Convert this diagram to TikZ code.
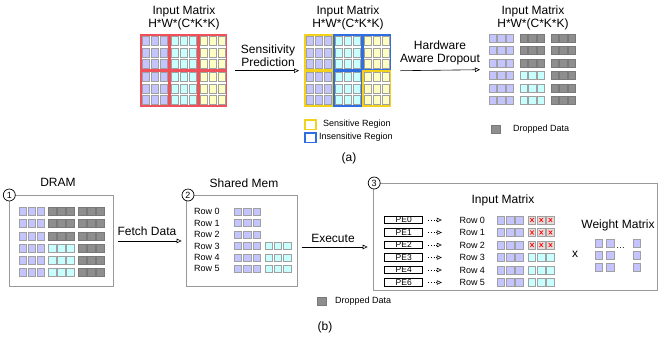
\documentclass[tikz,border=0pt]{standalone}
\usepackage{fontspec}
\setmainfont{Liberation Sans}
\usetikzlibrary{arrows.meta}
\definecolor{purp}{HTML}{C4C4FF}
\definecolor{cyn}{HTML}{C8FFFF}
\definecolor{yel}{HTML}{FFFFC4}
\definecolor{drop}{HTML}{8E8E8E}
\definecolor{cellb}{HTML}{A0A0A0}
\definecolor{redb}{HTML}{F0505A}
\definecolor{yelb}{HTML}{F2D21A}
\definecolor{blub}{HTML}{2E6EE0}
\definecolor{boxb}{HTML}{999999}
\definecolor{xfill}{HTML}{E6DCDC}
\tikzset{
 cell/.style={draw=cellb, line width=0.7pt},
 pc/.style={cell, fill=purp},
 cc/.style={cell, fill=cyn},
 yc/.style={cell, fill=yel},
 dc/.style={draw=drop!85!black, fill=drop, line width=0.7pt},
 xc/.style={cell, fill=xfill},
 grp/.style={line width=1.4pt},
 lbl/.style={font=\fontsize{12}{13}\selectfont, inner sep=0pt, align=center},
 small/.style={font=\fontsize{9}{10}\selectfont, inner sep=0pt},
 arr/.style={-{Triangle[open,length=5pt,width=4.5pt]}, line width=0.6pt},
 stage/.style={draw=boxb, line width=0.9pt, inner sep=0pt, anchor=north west},
 region/.style={inner sep=0pt, anchor=north west},
 numc/.style={circle, draw, fill=white, line width=0.7pt, minimum size=12pt, inner sep=0pt, font=\fontsize{9}{9}\selectfont},
 pebox/.style={draw, line width=1.3pt, minimum width=38pt, minimum height=7.5pt, inner sep=0pt, font=\fontsize{8.5}{8.5}\selectfont},
}
\begin{document}
\begin{tikzpicture}[x=1pt,y=-1pt]
\useasboundingbox (0,0) rectangle (664,341);
% ---------- (a) ----------
% matrix 1
\node[region, minimum width=86pt, minimum height=71pt] (m1) at (141,35) {};
\foreach \g/\f in {0/pc,1/cc,2/yc} \foreach \b in {0,1} \foreach \i in {0,1,2} \foreach \j in {0,1,2}
  \draw[\f] ({141+29*\g+1.6+8.8*\i},{35+36*\b+1.7+11.5*\j}) rectangle ++(7,9);
\foreach \g in {0,1,2} \foreach \b in {0,1}
  \draw[grp, draw=redb] ({141+29*\g},{35+36*\b}) rectangle ++(27.5,35);
\node[lbl] (t1) at (184,18) {Input Matrix\\H*W*(C*K*K)};
% matrix 2
\node[region, minimum width=86pt, minimum height=71pt] (m2) at (305,35) {};
\foreach \g/\f in {0/pc,1/cc,2/yc} \foreach \b in {0,1} \foreach \i in {0,1,2} \foreach \j in {0,1,2}
  \draw[\f] ({305+29*\g+1.6+8.8*\i},{35+36*\b+1.7+11.5*\j}) rectangle ++(7,9);
\foreach \g/\b/\c in {0/0/yelb,1/0/blub,2/0/blub,0/1/yelb,1/1/blub,2/1/yelb}
  \draw[grp, draw=\c] ({305+29*\g},{35+36*\b}) rectangle ++(27.5,35);
\node[lbl] (t2) at (348,18) {Input Matrix\\H*W*(C*K*K)};
% matrix 3
\node[region, minimum width=88pt, minimum height=71pt] (m3) at (489,34) {};
\foreach \r in {0,...,5} {
  \foreach \i in {0,1,2} {
    \draw[pc] ({489+8.6*\i},{34+12.5*\r}) rectangle ++(7.6,8.3);
    \draw[dc] ({489+62+8.6*\i},{34+12.5*\r}) rectangle ++(7.6,8.3);
  }
}
\foreach \r in {0,1,2} \foreach \i in {0,1,2}
  \draw[dc] ({489+31+8.6*\i},{34+12.5*\r}) rectangle ++(7.6,8.3);
\foreach \r in {3,4,5} \foreach \i in {0,1,2}
  \draw[cc] ({489+31+8.6*\i},{34+12.5*\r}) rectangle ++(7.6,8.3);
\node[lbl] (t3) at (533,18) {Input Matrix\\H*W*(C*K*K)};
% arrows
\draw[arr] ([xshift=8pt]m1.east) -- ([xshift=-6pt]m2.west);
\node[lbl] (sp) at (268,56) {Sensitivity\\Prediction};
\draw[arr] ([xshift=9pt]m2.east) -- ([xshift=-9pt]m3.west);
\node[lbl] (hw) at (440,53) {Hardware\\Aware Dropout};
% legends
\draw[grp, draw=yelb, fill=white] (305,120) rectangle (316,129.5);
\node[small] (ls) at (357,124.5) {Sensitive Region};
\draw[grp, draw=blub, fill=white] (305,133) rectangle (316,142.5);
\node[small] (li) at (356,137.5) {Insensitive Region};
\draw[dc] (491,125) rectangle (500,133);
\node[small, anchor=west] (ld) at (513,129) {Dropped Data};
\node[lbl] (capa) at (349,158) {(a)};
% ---------- (b) ----------
% DRAM
\node[stage, minimum width=103.4pt, minimum height=91pt] (dram) at (9.3,195) {};
\node[numc] (n1) at (dram.north west) {1};
\node[lbl] (tdram) at (58,182) {DRAM};
\foreach \r in {0,...,5} \foreach \i in {0,1,2} {
  \draw[pc] ({19+9*\i},{207.7+12.1*\r}) rectangle ++(7.5,8);
  \draw[dc] ({19+59.4+9*\i},{207.7+12.1*\r}) rectangle ++(7.5,8);
}
\foreach \r in {0,1,2} \foreach \i in {0,1,2}
  \draw[dc] ({19+29.7+9*\i},{207.7+12.1*\r}) rectangle ++(7.5,8);
\foreach \r in {3,4,5} \foreach \i in {0,1,2}
  \draw[cc] ({19+29.7+9*\i},{207.7+12.1*\r}) rectangle ++(7.5,8);
% Shared mem
\node[stage, minimum width=110.7pt, minimum height=91pt] (smem) at (186,195) {};
\node[numc] (n2) at ([xshift=2pt]smem.north west) {2};
\node[lbl] (tsm) at (244,183) {Shared Mem};
\foreach \r in {0,...,5} {
  \node[small, anchor=west] (sr\r) at (194,{211.7+11.4*\r}) {Row \r};
  \foreach \i in {0,1,2}
    \draw[pc] ({234.3+9.3*\i},{208.3+11.4*\r}) rectangle ++(7.5,7);
}
\foreach \r in {3,4,5} \foreach \i in {0,1,2}
  \draw[cc] ({265+9.3*\i},{208.3+11.4*\r}) rectangle ++(7.5,7);
% Execute box
\node[stage, minimum width=284pt, minimum height=107pt] (exe) at (372.7,183) {};
\node[numc] (n3) at ([xshift=1.5pt]exe.north west) {3};
\node[lbl] (tim) at (503,200) {Input Matrix};
\foreach \r/\p in {0/0,1/1,2/2,3/3,4/4,5/6} {
  \node[pebox] (pe\r) at (403.7,{220+12.5*\r}) {PE\p};
  \node[small, anchor=west] (er\r) at (459.3,{220+12.5*\r}) {Row \r};
  \draw[arr, dotted] ([xshift=5pt]pe\r.east) -- ([xshift=-17.5pt]er\r.west);
  \foreach \i in {0,1,2}
    \draw[pc] ({497.3+9.2*\i},{216+12.5*\r}) rectangle ++(7.5,8);
}
\foreach \r in {0,1,2} \foreach \i in {0,1,2} {
  \draw[xc] ({528.3+9.2*\i},{216+12.5*\r}) rectangle ++(7.5,8);
  \draw[red, line width=0.7pt] ({528.3+9.2*\i+2},{216+12.5*\r+2}) -- ++(3.5,4)
                               ({528.3+9.2*\i+5.5},{216+12.5*\r+2}) -- ++(-3.5,4);
}
\foreach \r in {3,4,5} \foreach \i in {0,1,2}
  \draw[cc] ({528.3+9.2*\i},{216+12.5*\r}) rectangle ++(7.5,8);
\node[lbl] (mul) at (575,254) {x};
\node[lbl] (twm) at (618,225) {Weight Matrix};
\foreach \r in {0,1,2} \foreach \x in {595,606.7,633.3}
  \draw[pc] (\x,{239.5+12*\r}) rectangle ++(7.5,8);
\node[small] (dots) at (620.5,248) {\ldots};
% arrows (b)
\draw[arr] ([xshift=4.3pt]dram.east) -- ([xshift=-4.3pt]smem.west);
\node[lbl] (fd) at (147,231.5) {Fetch Data};
\coordinate (ex0) at ([xshift=4pt,yshift=-6pt]smem.east);
\draw[arr, shorten >=5pt] (ex0) -- (ex0 -| exe.west);
\node[lbl] (exl) at (333,238) {Execute};
% legend (b)
\draw[dc] (317,297) rectangle (326,305);
\node[small, anchor=west] (ld2) at (335,301) {Dropped Data};
\node[lbl] (capb) at (325,327) {(b)};
\end{tikzpicture}
\end{document}
